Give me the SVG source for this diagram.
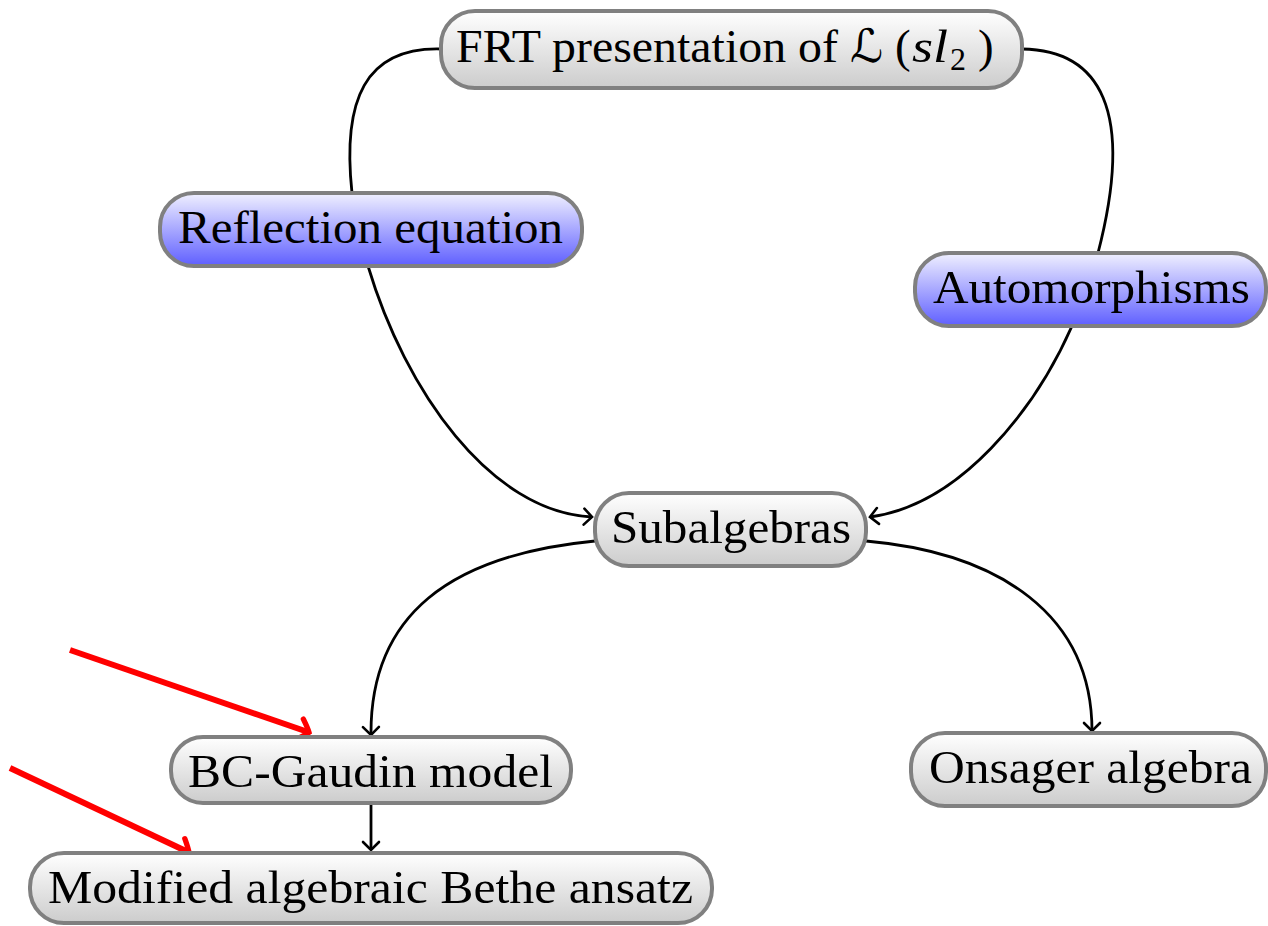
<svg xmlns="http://www.w3.org/2000/svg" width="1268" height="926" viewBox="0 0 1268 926">
<defs>
<linearGradient id="gGrey" x1="0" y1="0" x2="0" y2="1">
<stop offset="0" stop-color="#ffffff"/>
<stop offset="1" stop-color="#cccccc"/>
</linearGradient>
<linearGradient id="gBlue" x1="0" y1="0" x2="0" y2="1">
<stop offset="0" stop-color="#f0f0ff"/>
<stop offset="1" stop-color="#5f5fff"/>
</linearGradient>
<marker id="arr" markerWidth="20" markerHeight="20" refX="0" refY="0" viewBox="-12 -10 16 20" orient="auto" markerUnits="userSpaceOnUse">
<path d="M-8,-8 Q-2,-2 0,0 Q-2,2 -8,8" fill="none" stroke="#000" stroke-width="2.6" stroke-linecap="round"/>
</marker>
<marker id="arrRed" markerWidth="30" markerHeight="30" refX="0" refY="0" viewBox="-16 -14 20 28" orient="auto" markerUnits="userSpaceOnUse">
<path d="M-8,-10 Q-1,-3 1,0 Q-1,3 -8,10" fill="none" stroke="#ff0000" stroke-width="5" stroke-linecap="round"/>
</marker>
</defs>
<style>
.node rect{stroke:#808080;stroke-width:4}
.grey{fill:url(#gGrey)}
.blue{fill:url(#gBlue)}
.lbl{font-family:"Liberation Serif","DejaVu Serif",serif;font-size:47px;fill:#000}
.edge{fill:none;stroke:#000;stroke-width:2.8}
.red{fill:none;stroke:#ff0000;stroke-width:6}
</style>
<g id="connectors">
<path class="edge" d="M441,49 C365,47 342,100 352,193"/>
<path class="edge" d="M368,266 C405,390 490,512 592,517" marker-end="url(#arr)"/>
<path class="edge" d="M1022,49 C1100,50 1135,110 1098,253"/>
<path class="edge" d="M1072,326 C1035,410 960,505 870,517" marker-end="url(#arr)"/>
<path class="edge" d="M595,541 C450,555 370,615 371,735" marker-end="url(#arr)"/>
<path class="edge" d="M866,541 C1000,553 1092,615 1092,731" marker-end="url(#arr)"/>
<path class="edge" d="M371,803 L371,850" marker-end="url(#arr)"/>
<path class="red" d="M70,650 L308,732" marker-end="url(#arrRed)"/>
<path class="red" d="M10,768 L188,852" marker-end="url(#arrRed)"/>
</g>
<g id="frt" class="node">
<rect class="grey" x="441" y="11" width="581" height="77" rx="34"/>
<text class="lbl" x="456" y="62" textLength="382" lengthAdjust="spacingAndGlyphs">FRT presentation of</text>
<text x="850" y="62" font-family="DejaVu Serif,DejaVu Sans,serif" font-size="46" font-style="italic">ℒ</text>
<text class="lbl" x="895" y="62">(</text>
<text class="lbl" x="912" y="62" font-style="italic" textLength="36" lengthAdjust="spacingAndGlyphs">sl</text>
<text class="lbl" x="950" y="70" style="font-size:32px">2</text>
<text class="lbl" x="978" y="62">)</text>
</g>
<g id="reflection" class="node">
<rect class="blue" x="160" y="193" width="422" height="73" rx="34"/>
<text class="lbl" x="178" y="243" textLength="385" lengthAdjust="spacingAndGlyphs">Reflection equation</text>
</g>
<g id="automorphisms" class="node">
<rect class="blue" x="915" y="253" width="351" height="73" rx="34"/>
<text class="lbl" x="933" y="303" textLength="317" lengthAdjust="spacingAndGlyphs">Automorphisms</text>
</g>
<g id="subalgebras" class="node">
<rect class="grey" x="595" y="493" width="271" height="73" rx="34"/>
<text class="lbl" x="611" y="543" textLength="240" lengthAdjust="spacingAndGlyphs">Subalgebras</text>
</g>
<g id="bcgaudin" class="node">
<rect class="grey" x="171" y="737" width="400" height="66" rx="32"/>
<text class="lbl" x="188" y="787" textLength="365" lengthAdjust="spacingAndGlyphs">BC-Gaudin model</text>
</g>
<g id="modified" class="node">
<rect class="grey" x="30" y="853" width="682" height="70" rx="34"/>
<text class="lbl" x="48" y="903" textLength="645" lengthAdjust="spacingAndGlyphs">Modified algebraic Bethe ansatz</text>
</g>
<g id="onsager" class="node">
<rect class="grey" x="911" y="733" width="355" height="73" rx="34"/>
<text class="lbl" x="929" y="783" textLength="323" lengthAdjust="spacingAndGlyphs">Onsager algebra</text>
</g>
</svg>
